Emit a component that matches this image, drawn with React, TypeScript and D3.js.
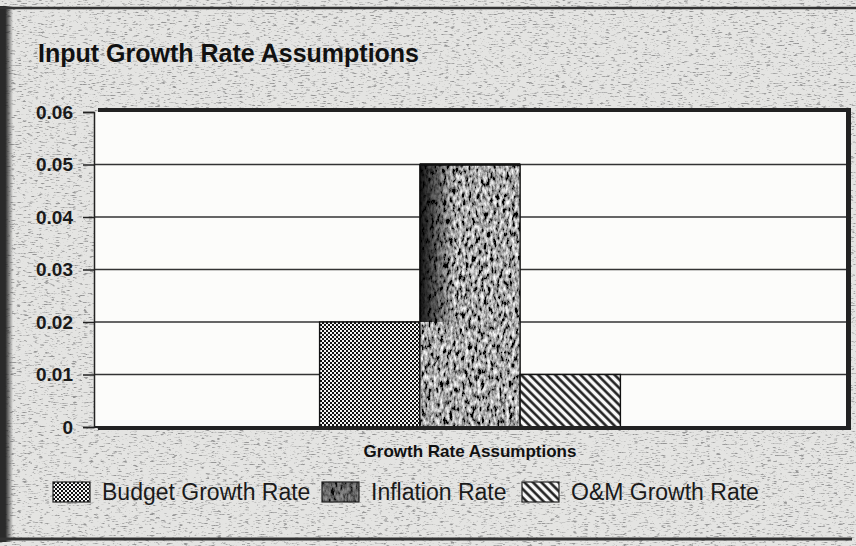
import React, { useEffect, useRef } from 'react'
import * as d3 from 'd3'

const [W, H] = [856, 546]
const margin = { left: 94, right: 10, top: 112, bottom: 119 }

const title = 'Input Growth Rate Assumptions'
const categories = ['Growth Rate Assumptions']
const seriesNames = ['Budget Growth Rate', 'Inflation Rate', 'O&M Growth Rate']
const seriesValues = [0.02, 0.05, 0.01]
const yTicks = [0, 0.01, 0.02, 0.03, 0.04, 0.05, 0.06]
const yTickLabels = ['0', '0.01', '0.02', '0.03', '0.04', '0.05', '0.06']
const seriesFills = ['url(#checker)', '#777', 'url(#hatch)']

const FONT = '"Liberation Sans", Arial, Helvetica, sans-serif'

export default function App() {
  const axisRef = useRef<SVGGElement>(null)

  const plotRight = W - margin.right
  const plotBottom = H - margin.bottom

  const y = d3.scaleLinear().domain([0, 0.06]).range([plotBottom, margin.top])
  const x0 = d3.scaleBand().domain(categories).range([margin.left, plotRight])
    .paddingInner(0).paddingOuter(0.75)
  const x1 = d3.scaleBand().domain(seriesNames).range([0, x0.bandwidth()])

  useEffect(() => {
    const g = d3.select(axisRef.current)
    g.selectAll('*').remove()
    const axis = d3.axisLeft(y)
      .tickValues(yTicks)
      .tickSize(11)
      .tickPadding(10)
      .tickFormat((d, i) => yTickLabels[i])
    g.call(axis)
    g.select('.domain').attr('stroke', '#222').attr('stroke-width', 1.5)
    g.selectAll('.tick line').attr('stroke', '#222').attr('stroke-width', 1.5)
    g.selectAll('.tick text')
      .attr('fill', '#1a1a1a')
      .style('font-family', FONT)
      .style('font-size', '19px')
      .style('font-weight', 'bold')
  }, [])

  const cat = categories[0]
  const infl = seriesNames[1]

  // legend layout: x of each swatch
  const legendX = [53, 322, 522]
  const legendY = 482

  return (
    <svg width={W} height={H} style={{ position: 'absolute', left: 0, top: 0 }}>
      <defs>
        <pattern id="checker" width="4" height="4" patternUnits="userSpaceOnUse">
          <rect width="4" height="4" fill="#f4f4f4" />
          <rect width="2" height="2" fill="#111" />
          <rect x="2" y="2" width="2" height="2" fill="#111" />
        </pattern>
        <pattern id="hatch" width="6" height="6" patternUnits="userSpaceOnUse" patternTransform="rotate(-45)">
          <rect width="6" height="6" fill="#f8f8f8" />
          <line x1="1.5" y1="0" x2="1.5" y2="6" stroke="#111" strokeWidth="2.4" />
        </pattern>
        <filter id="grain" x="0" y="0" width="100%" height="100%">
          <feTurbulence type="fractalNoise" baseFrequency="0.18 0.9" numOctaves="3" seed="4" result="n" />
          <feColorMatrix in="n" type="matrix"
            values="0 0 0 0 0.3  0 0 0 0 0.3  0 0 0 0 0.3  4.5 0 0 0 -2.55" />
        </filter>
        <filter id="inflTex" x="0" y="0" width="100%" height="100%">
          <feTurbulence type="fractalNoise" baseFrequency="0.32 0.16" numOctaves="3" seed="9" result="n" />
          <feColorMatrix in="n" type="matrix"
            values="2.0 0 0 0 -0.62  2.0 0 0 0 -0.62  2.0 0 0 0 -0.62  0 0 0 0 1" result="g" />
          <feComposite in="g" in2="SourceGraphic" operator="in" />
        </filter>
        <linearGradient id="inflShade" x1="0" x2="1" y1="0" y2="0">
          <stop offset="0" stopColor="#000" stopOpacity="0.9" />
          <stop offset="0.15" stopColor="#000" stopOpacity="0.55" />
          <stop offset="0.35" stopColor="#000" stopOpacity="0" />
        </linearGradient>
        <linearGradient id="leftEdge" x1="0" x2="1" y1="0" y2="0">
          <stop offset="0" stopColor="#222" />
          <stop offset="1" stopColor="#222" stopOpacity="0" />
        </linearGradient>
      </defs>

      {/* page background with scanned grain */}
      <rect width={W} height={H} fill="#e4e4e2" />
      <rect width={W} height={H} filter="url(#grain)" />
      <rect x={0} y={6} width={5} height={H - 10} fill="#2a2a2a" />
      <rect x={5} y={6} width={8} height={H - 10} fill="url(#leftEdge)" />
      <line x1={0} x2={W} y1={8} y2={8} stroke="#333" strokeWidth={2.5} />
      <line x1={0} x2={W - 4} y1={539} y2={539} stroke="#333" strokeWidth={3} />

      <text x={38} y={62} fontFamily={FONT} fontSize={25} fontWeight="bold" fill="#111">{title}</text>

      {/* plot frame with shadow */}
      <rect x={margin.left + 4} y={margin.top - 4} width={plotRight - margin.left + 1}
        height={plotBottom - margin.top + 7} fill="#222" />
      <rect x={margin.left} y={margin.top} width={plotRight - margin.left}
        height={plotBottom - margin.top} fill="#fcfcfa" />

      {/* gridlines */}
      {yTicks.filter(t => t > 0 && t < 0.06).map(t => (
        <line key={t} x1={margin.left} x2={plotRight} y1={y(t)} y2={y(t)} stroke="#333" strokeWidth={1.3} />
      ))}

      {/* bars */}
      {seriesNames.map((s, i) => {
        const bx = x0(cat)! + x1(s)!
        const by = y(seriesValues[i])
        return (
          <g key={s}>
            <rect x={bx} y={by} width={x1.bandwidth()} height={plotBottom - by}
              fill={seriesFills[i]} filter={i === 1 ? 'url(#inflTex)' : undefined} />
            <rect x={bx} y={by} width={x1.bandwidth()} height={plotBottom - by}
              fill="none" stroke="#111" strokeWidth={1.4} />
          </g>
        )
      })}
      {/* dark shading on the inflation bar above the budget bar */}
      <rect x={x0(cat)! + x1(infl)!} y={y(seriesValues[1])} width={x1.bandwidth()}
        height={y(seriesValues[0]) - y(seriesValues[1])} fill="url(#inflShade)" />
      <line x1={x0(cat)! + x1(infl)!} x2={x0(cat)! + x1(infl)! + x1.bandwidth()}
        y1={y(seriesValues[1])} y2={y(seriesValues[1])} stroke="#111" strokeWidth={2.5} />

      <line x1={margin.left} x2={plotRight} y1={plotBottom} y2={plotBottom} stroke="#222" strokeWidth={2} />
      <g ref={axisRef} transform={`translate(${margin.left},0)`} />

      <text x={(margin.left + plotRight) / 2} y={457} textAnchor="middle" fontFamily={FONT}
        fontSize={17} fontWeight="bold" fill="#111">{categories[0]}</text>

      {/* legend */}
      {seriesNames.map((s, i) => (
        <g key={s} transform={`translate(${legendX[i]},${legendY})`}>
          <rect width={37} height={20} fill={seriesFills[i]}
            filter={i === 1 ? 'url(#inflTex)' : undefined} />
          {i === 1 && <rect width={37} height={20} fill="#111" opacity={0.45} />}
          <rect width={37} height={20} fill="none" stroke="#222" strokeWidth={1.2} />
          <text x={49} y={18} fontFamily={FONT} fontSize={23} fill="#1a1a1a">{s}</text>
        </g>
      ))}
    </svg>
  )
}
